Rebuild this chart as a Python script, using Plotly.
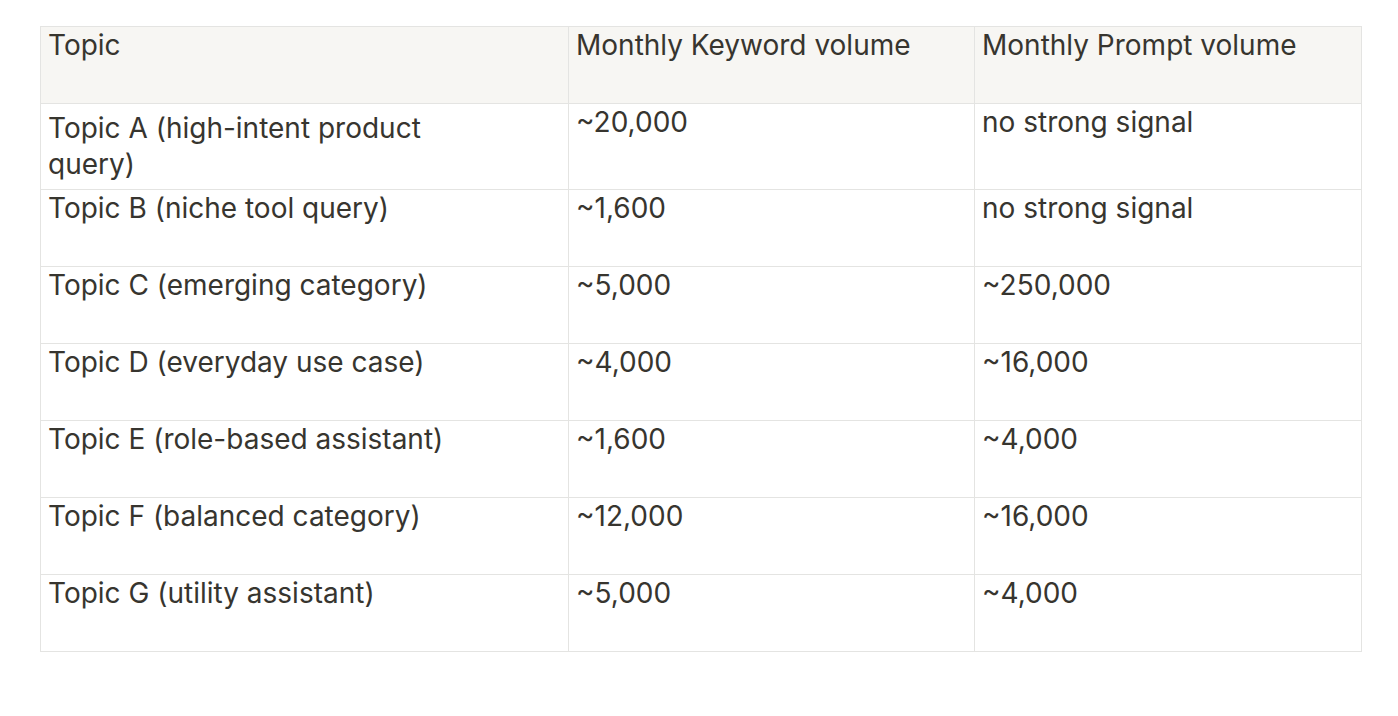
import plotly.graph_objects as go

headers = ["Topic", "Monthly Keyword volume", "Monthly Prompt volume"]
topics = ["Topic A (high-intent product<br>query)", "Topic B (niche tool query)",
          "Topic C (emerging category)", "Topic D (everyday use case)",
          "Topic E (role-based assistant)", "Topic F (balanced category)",
          "Topic G (utility assistant)"]
keyword_volume = ["~20,000", "~1,600", "~5,000", "~4,000", "~1,600", "~12,000", "~5,000"]
prompt_volume = ["no strong signal", "no strong signal", "~250,000", "~16,000",
                 "~4,000", "~16,000", "~4,000"]

txt = "#37352f"
line = "#e4e4e2"
fig = go.Figure(go.Table(
    columnwidth=[528, 406, 387],
    header=dict(values=headers, fill_color="#f7f6f3", line_color=line,
                font=dict(family="Inter", size=28, color=txt), align="left",
                height=77),
    cells=dict(values=[topics, keyword_volume, prompt_volume], fill_color="white",
               line_color=line, font=dict(family="Inter", size=28, color=txt),
               align="left", height=77),
))
fig.update_layout(width=1398, height=716, margin=dict(l=32, r=45, t=18, b=20),
                  paper_bgcolor="white")
fig.write_html("out.html")
